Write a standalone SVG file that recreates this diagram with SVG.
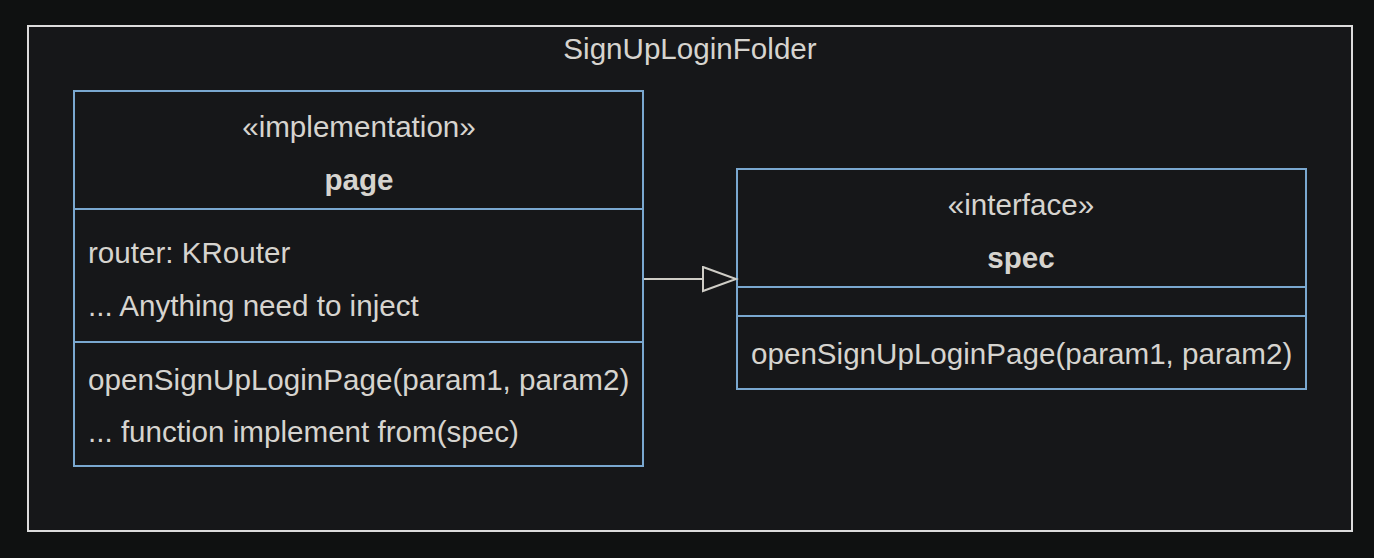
<svg xmlns="http://www.w3.org/2000/svg" width="1374" height="558" viewBox="0 0 1374 558">
<style>
text{font-family:"Liberation Sans",Arial,Helvetica,sans-serif;fill:#d6d4cf;font-size:29.6px}
.c{text-anchor:middle}
.b{font-weight:bold}
.box{fill:#161719;stroke:#7aa8d0;stroke-width:2}
.sep{stroke:#7aa8d0;stroke-width:2}
.edge{stroke:#cfcdc6;stroke-width:2;fill:none}
</style>
<defs>
<marker id="tri" markerWidth="40" markerHeight="30" refX="34" refY="13" orient="auto" markerUnits="userSpaceOnUse">
<path d="M1,1 L34,13 L1,25 Z" fill="#161719" stroke="#cfcdc6" stroke-width="2"/>
</marker>
</defs>
<rect width="1374" height="558" fill="#0f1111"/>
<g id="SignUpLoginFolder">
<rect x="28" y="26" width="1324" height="505" fill="#161719" stroke="#dcdcdc" stroke-width="2"/>
<text class="c" x="690" y="59">SignUpLoginFolder</text>
</g>
<g id="page">
<rect class="box" x="74" y="91" width="569" height="375"/>
<line class="sep" x1="74" y1="209" x2="643" y2="209"/>
<line class="sep" x1="74" y1="342" x2="643" y2="342"/>
<text class="c" x="359" y="137">«implementation»</text>
<text class="c b" x="359" y="190">page</text>
<text x="88" y="263">router: KRouter</text>
<text x="88" y="316">... Anything need to inject</text>
<text x="88" y="390">openSignUpLoginPage(param1, param2)</text>
<text x="88" y="442">... function implement from(spec)</text>
</g>
<g id="spec">
<rect class="box" x="737" y="169" width="569" height="220"/>
<line class="sep" x1="737" y1="287" x2="1306" y2="287"/>
<line class="sep" x1="737" y1="316" x2="1306" y2="316"/>
<text class="c" x="1021" y="215">«interface»</text>
<text class="c b" x="1021" y="268">spec</text>
<text x="751" y="364">openSignUpLoginPage(param1, param2)</text>
</g>
<g id="connectors">
<path class="edge" d="M644,279 L736,279" marker-end="url(#tri)"/>
</g>
</svg>
